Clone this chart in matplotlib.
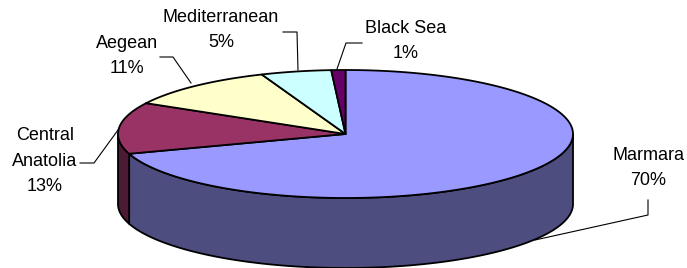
import numpy as np
import matplotlib
matplotlib.use('Agg')
import matplotlib.pyplot as plt
from matplotlib.patches import Polygon

plt.rcParams['font.family'] = ['Liberation Sans', 'DejaVu Sans']

### Data
regions = ['Marmara', 'Central\nAnatolia', 'Aegean', 'Mediterranean', 'Black Sea']
shares = [70, 13, 11, 5, 1]
top_colors = ['#9999FF', '#993366', '#FFFFCC', '#CCFFFF', '#660066']
side_colors = ['#4D4D80', '#4D1A33', '#80806A', '#6A8080', '#330033']

### Layout (pixels)
cx, cy = 345.5, 134.0
ra, rb = 227.5, 64.0
depth = 70.0
label_pos = [(648, 168), (45, 161), (127, 56), (221, 30), (406, 41)]
leaders = [
  [(648, 200), (648, 215), (535, 240)],
  [(80, 163), (94, 163), (118, 130)],
  [(160, 57), (173, 57), (191, 83)],
  [(283, 32), (297, 32), (298, 70)],
  [(362, 43), (346, 43), (337, 69)],
]


def ellipse_pts(t0, t1, dy=0.0, n=200):
  t = np.radians(np.linspace(t0, t1, n))
  return np.column_stack([cx + ra*np.cos(t), cy - rb*np.sin(t) + dy])


fig = plt.figure(figsize=(6.87, 2.68), dpi=100)
ax = fig.add_axes([0, 0, 1, 1])
ax.set_xlim(0, 687)
ax.set_ylim(268, 0)
ax.axis('off')

### Wedge angles, starting at 12 o'clock, clockwise
total = float(sum(shares))
bounds = 90 - 360*np.concatenate([[0], np.cumsum(shares)])/total

### Front sides
for i in range(len(shares)):
  hi, lo = bounds[i], bounds[i+1]
  for f0, f1 in [(-180, 0), (180, 360), (-540, -360)]:
    a0, a1 = max(lo, f0), min(hi, f1)
    if a1 > a0:
      upper = ellipse_pts(a0, a1)
      lower = ellipse_pts(a1, a0, dy=depth)
      ax.add_patch(Polygon(np.vstack([upper, lower]), closed=True,
        facecolor=side_colors[i], edgecolor='black', lw=1.3, joinstyle='round'))

### Top wedges
for i in range(len(shares)):
  hi, lo = bounds[i], bounds[i+1]
  arc = ellipse_pts(lo, hi)
  pts = np.vstack([[cx, cy], arc])
  ax.add_patch(Polygon(pts, closed=True, facecolor=top_colors[i],
    edgecolor='black', lw=1.3, joinstyle='round'))

### Labels and leader lines
for i in range(len(shares)):
  x, y = label_pos[i]
  ax.text(x, y, '%s\n%d%%' % (regions[i], shares[i]), ha='center',
    va='center', fontsize=13, linespacing=1.65, color='black')
  lx, ly = zip(*leaders[i])
  ax.plot(lx, ly, color='black', lw=0.8)

plt.savefig('out.png', dpi=100)
